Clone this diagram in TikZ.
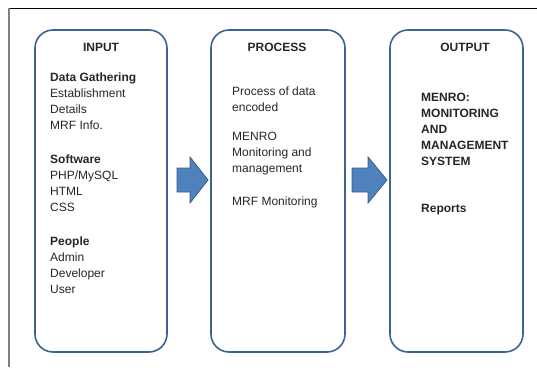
\documentclass[tikz,border=0pt]{standalone}
\usepackage{fontspec}
\setmainfont{Liberation Sans}
\definecolor{boxblue}{RGB}{59,99,152}
\definecolor{arrowfill}{RGB}{79,129,189}
\definecolor{arrowline}{RGB}{56,93,138}
\tikzset{
  stage/.style={draw=boxblue, line width=1.6pt, rounded corners=18pt,
    minimum width=132pt, minimum height=322pt, inner sep=0pt},
  heading/.style={font=\fontsize{12}{16}\selectfont\bfseries, text=black!85},
  % base = baseline of the last line
  items/.style={anchor=base west, align=left, inner sep=0pt,
    font=\fontsize{12}{16}\selectfont, text=black!85},
}
\begin{document}
\begin{tikzpicture}[x=1pt,y=-1pt]
\useasboundingbox (0,0) rectangle (537,367);
% page edges
\draw[black, line width=1pt] (9,8) -- (537,8);
\draw[gray, line width=1.2pt] (9,8) -- (9,367);

% the three stages
\node[stage] (inp) at (101,191) {};
\node[stage, minimum width=134pt] (proc) at (278,191) {};
\node[stage, minimum width=133pt] (outp) at (456.5,191) {};

\node[heading] (inpT) at (101,47) {INPUT};
\node[heading] (procT) at (277,47) {PROCESS};
\node[heading] (outpT) at (465,47) {OUTPUT};

% input side
\node[items] (gather) at (50,129.5) {\textbf{Data Gathering}\\Establishment\\Details\\MRF Info.};
\node[items] (soft) at (50,211) {\textbf{Software}\\PHP/MySQL\\HTML\\CSS};
\node[items] (people) at (50,293) {\textbf{People}\\Admin\\Developer\\User};

% process side
\node[items] (encode) at (232,111.5) {Process of data\\encoded};
\node[items] (menro) at (232,172) {MENRO\\Monitoring and\\management};
\node[items] (mrf) at (232,205.5) {MRF Monitoring};

% output side
\node[items, font=\fontsize{12}{16}\selectfont\bfseries] (system) at (421,165.5) {MENRO:\\MONITORING\\AND\\MANAGEMENT\\SYSTEM};
\node[items, font=\fontsize{12}{16}\selectfont\bfseries] (reports) at (421,212.5) {Reports};

% block arrows between the stages
\foreach \t/\h/\p in {177/190/208, 352/368/387}
  \draw[fill=arrowfill, draw=arrowline, line width=0.8pt, line join=miter]
    (\t,168) -- (\h,168) -- (\h,157) -- (\p,180) -- (\h,203) -- (\h,192) -- (\t,192) -- cycle;
\end{tikzpicture}
\end{document}
